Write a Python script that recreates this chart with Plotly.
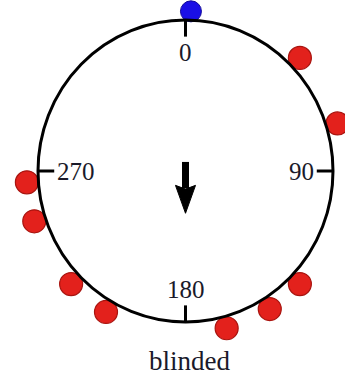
import numpy as np
import plotly.graph_objects as go

# Individual headings (degrees, clockwise from north)
red_angles = [46, 73, 134, 148, 165, 210, 226, 252, 266]
blue_angles = [2]

# Mean vector (direction in degrees, length relative to circle radius)
mean_angle = 180
mean_length = 0.28

# Cardinal tick labels
tick_angles = [0, 90, 180, 270]
tick_labels = ["0", "90", "180", "270"]
condition_label = "blinded"

DOT_R = 1.078     # dots sit just outside the unit circle
TICK_LEN = 0.11
SERIF = "Liberation Serif, Times New Roman, serif"


def to_xy(deg, r):
    t = np.radians(np.asarray(deg, dtype=float))
    return r * np.sin(t), r * np.cos(t)


fig = go.Figure()

# Tick marks pointing inward from the circle
for a in tick_angles:
    x0, y0 = to_xy(a, 1.0)
    x1, y1 = to_xy(a, 1.0 - TICK_LEN)
    fig.add_shape(type="line", x0=float(x0), y0=float(y0), x1=float(x1), y1=float(y1),
                  line=dict(color="black", width=3))

# Unit circle
fig.add_shape(type="circle", x0=-1, y0=-1, x1=1, y1=1,
              line=dict(color="black", width=3))

# Mean vector: shaft plus filled head
t = np.radians(mean_angle)
ux, uy = np.sin(t), np.cos(t)
px, py = np.cos(t), -np.sin(t)
head_len = 0.185
head_half = 0.068
tail = -0.06
base = mean_length - head_len
fig.add_trace(go.Scatter(
    x=[tail * ux, (base + 0.02) * ux], y=[tail * uy, (base + 0.02) * uy],
    mode="lines", line=dict(color="black", width=7),
    hoverinfo="skip", showlegend=False))
fig.add_trace(go.Scatter(
    x=[base * ux + head_half * px, mean_length * ux, base * ux - head_half * px,
       (base + 0.025) * ux, base * ux + head_half * px],
    y=[base * uy + head_half * py, mean_length * uy, base * uy - head_half * py,
       (base + 0.025) * uy, base * uy + head_half * py],
    mode="lines", fill="toself", fillcolor="black",
    line=dict(color="black", width=1),
    hoverinfo="skip", showlegend=False))

# Heading dots
rx, ry = to_xy(red_angles, DOT_R)
fig.add_trace(go.Scatter(
    x=rx, y=ry, mode="markers",
    marker=dict(size=23, color="#e3211c", line=dict(color="#a8140f", width=1.2)),
    cliponaxis=False, showlegend=False))
bx, by = to_xy(blue_angles, DOT_R - 0.02)
fig.add_trace(go.Scatter(
    x=bx, y=by, mode="markers",
    marker=dict(size=21, color="#1a0fe6", line=dict(color="#10089a", width=1)),
    cliponaxis=False, showlegend=False))

# Tick labels placed just inside each tick
anchors = {0: ("center", "top"), 90: ("right", "middle"),
           180: ("center", "bottom"), 270: ("left", "middle")}
for a, lab in zip(tick_angles, tick_labels):
    lx, ly = to_xy(a, 1.0 - TICK_LEN - 0.005)
    xa, ya = anchors[a]
    fig.add_annotation(x=float(lx), y=float(ly), text=lab, showarrow=False,
                       xanchor=xa, yanchor=ya,
                       font=dict(family=SERIF, size=25, color="#1a1a2a"))

fig.add_annotation(x=0.03, y=-1.26, text=condition_label, showarrow=False,
                   xanchor="center", yanchor="middle",
                   font=dict(family=SERIF, size=27, color="#1a1a2a"))

# Pixel layout: circle centre at (185.5, 171), radii 147.5 (x) and 151 (y)
W, H = 345, 375
cx, cy, rxp, ryp = 185.5, 171.0, 147.5, 151.0
fig.update_layout(
    width=W, height=H,
    margin=dict(l=0, r=0, t=0, b=0),
    paper_bgcolor="white", plot_bgcolor="white",
    xaxis=dict(range=[-cx / rxp, (W - cx) / rxp], visible=False, fixedrange=True),
    yaxis=dict(range=[(cy - H) / ryp, cy / ryp], visible=False, fixedrange=True),
    showlegend=False,
)

fig.write_html("out.html")
